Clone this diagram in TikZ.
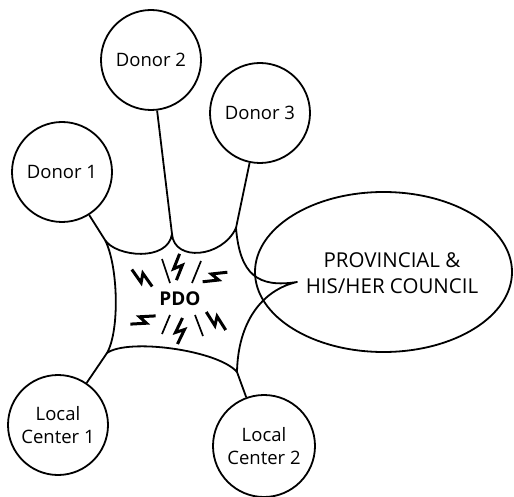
\documentclass[tikz,border=0pt]{standalone}
\usepackage{fontspec}
\setmainfont{Open Sans}
\usetikzlibrary{shapes.geometric}
\begin{document}
\begin{tikzpicture}[x=1pt,y=-1pt,
  ring/.style={draw,circle,line width=1.8pt,minimum size=100pt,inner sep=0pt,
    align=center,font=\fontsize{18.5}{23}\selectfont},
  oval/.style={draw,ellipse,line width=1.8pt,minimum width=257pt,minimum height=160pt,inner sep=0pt},
  link/.style={line width=1.8pt,line join=round},
  tick/.style={line width=1.7pt},
  bolt/.pic={\draw[line width=3pt,line join=miter,miter limit=10]
    (-13,-2.5) -- (1.5,4.5) -- (-1.5,-4.5) -- (13,2.5);}]
\useasboundingbox (0,0) rectangle (514,497);

% the five outer parties
\node[ring] (d1) at (62,172) {Donor 1};
\node[ring] (d2) at (151,60) {Donor 2};
\node[ring] (d3) at (260,113) {Donor 3};
\node[ring] (lc1) at (58,425) {Local\\Center 1};
\node[ring,minimum size=102pt] (lc2) at (264,446) {Local\\Center 2};
\node[oval] (council) at (383.5,272) {};
\node[align=center,font=\fontsize{20.5}{26}\selectfont] (ctext) at (392,273)
  {PROVINCIAL \&\\HIS/HER COUNCIL};

% cusps of the PDO shape
\coordinate (c1) at (105,240);
\coordinate (c2) at (172,234);
\coordinate (c3) at (236,228);
\coordinate (c4) at (297,282);
\coordinate (c5) at (237,372);
\coordinate (c6) at (107,353);

% connectors into the cusps
\draw[link] (d1) -- (c1);
\draw[link] (d2) -- (c2);
\draw[link] (d3) -- (c3);
\draw[link] (lc1) -- (c6);
\draw[link] (lc2) -- (c5);

% the PDO shape with concave sides
\draw[link] (c1) .. controls (116,257) and (168,262) .. (c2)
  .. controls (174,262) and (222,258) .. (c3)
  .. controls (240,275) and (258,288) .. (c4)
  .. controls (262,290) and (238,322) .. (c5)
  .. controls (218,350) and (128,338) .. (c6)
  .. controls (120,330) and (118,265) .. (c1);

\node[font=\fontsize{19}{21}\selectfont\bfseries] (pdo) at (180,299) {PDO};

% sparks round the PDO label
\pic[rotate=151] at (142,278) {bolt};
\pic[rotate=94] at (178,267) {bolt};
\pic[rotate=32] at (215,277) {bolt};
\pic[rotate=209] at (143,320) {bolt};
\pic[rotate=270] at (180,331) {bolt};
\pic[rotate=328] at (216,321) {bolt};
\draw[tick] (162,259) -- (170,283);
\draw[tick] (201,261) -- (192,283);
\draw[tick] (170,315) -- (162,334);
\draw[tick] (195,315) -- (203,336);
\end{tikzpicture}
\end{document}
